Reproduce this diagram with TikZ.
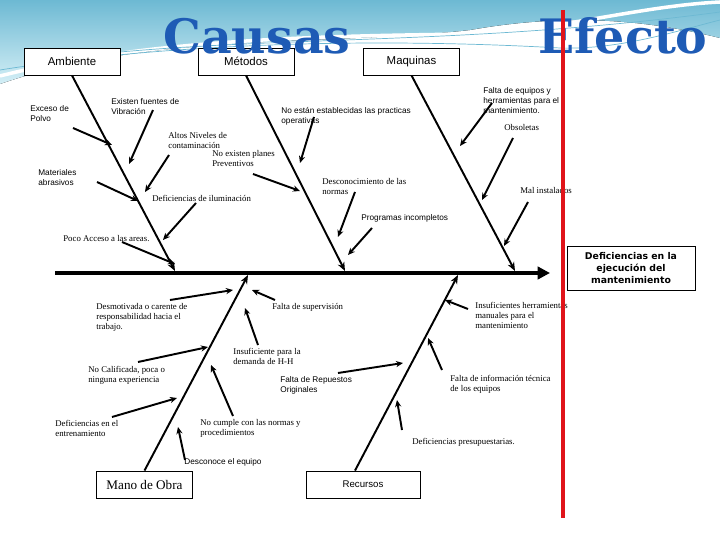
\documentclass[tikz,border=0pt]{standalone}
\usepackage{fontspec}
\setmainfont{Liberation Serif}
\setsansfont{Liberation Sans}
\newfontfamily\titlefont{DejaVu Serif}
\newfontfamily\boxfont{DejaVu Sans}
\usetikzlibrary{arrows.meta}
\definecolor{skyA}{HTML}{6DB9D3}
\definecolor{skyB}{HTML}{D4EFF6}
\definecolor{titleblue}{HTML}{1E5BB5}
\definecolor{effred}{HTML}{E0141A}

\begin{document}
\begin{tikzpicture}[x=0.02cm, y=-0.02cm,
        lbl/.style={anchor=north west, inner sep=0pt, align=left, font=\fontsize{5}{5.6}\selectfont},
        slbl/.style={lbl, font=\sffamily\fontsize{4.7}{5.6}\selectfont},
        cat/.style={draw, line width=0.5pt, fill=white, minimum width=1.92cm, minimum height=0.54cm, inner sep=0pt, font=\sffamily\fontsize{6.5}{7}\selectfont},
        bone/.style={line width=1.1pt, -{Stealth[length=5pt,width=4pt]}},
        twig/.style={line width=1.1pt, -{Stealth[length=4pt,width=3.5pt]}},
        title/.style={text=titleblue, inner sep=0pt, font=\titlefont\bfseries\fontsize{27}{27}\selectfont}]
    \useasboundingbox (0,0) rectangle (720,540);

    % fondo
    \fill[top color=skyA, bottom color=skyB] (0,0) -- (720,0) -- (720,38) .. controls (640,18) and (560,14) .. (470,30) .. controls (330,46) and (150,32) .. (0,84) -- cycle;
    \draw[white, line width=2pt] (0,76) .. controls (150,38) and (330,36) .. (470,34) .. controls (560,30) and (640,6) .. (720,2);
    \draw[skyA, line width=0.4pt] (0,70) .. controls (200,38) and (420,40) .. (560,48) .. controls (620,50) and (680,30) .. (720,20);
    \draw[skyA, line width=0.4pt] (120,52) .. controls (300,36) and (480,44) .. (720,12);

    % cajas
    \node[cat] (amb) at (72,61.5) {Ambiente};
    \node[cat] (met) at (246,61.5) {Métodos};
    \node[cat] (maq) at (411.5,61.5) {Maquinas};
    \node[cat, font=\fontsize{7.5}{8}\selectfont] (mano) at (144.5,484.5) {Mano de Obra};
    \node[cat, minimum width=2.28cm, font=\sffamily\fontsize{5.5}{6}\selectfont] (rec) at (363,484.5) {Recursos};

    \node[title] (causas) at (257,36) {Causas};
    \node[title] (efecto) at (623,36) {Efecto};

    % espina
    \coordinate (sL) at (55,273);
    \coordinate (sR) at (550,273);
    \draw[line width=2.4pt, -{Triangle[length=7pt,width=7pt]}] (sL) -- (sR);

    \coordinate (jA) at (175,271);
    \coordinate (jM) at (345,271);
    \coordinate (jQ) at (515,271);
    \coordinate (jO) at (248,275);
    \coordinate (jR) at (458,275);
    \draw[bone] (amb.south) -- (jA);
    \draw[bone] (met.south) -- (jM);
    \draw[bone] (maq.south) -- (jQ);
    \draw[bone] (mano.north) -- (jO);
    \draw[bone] ([xshift=-0.16cm]rec.north) -- (jR);

    % causas secundarias
    \foreach \i/\tx/\ty/\hx/\hy in {1/73/128/112/145, 2/153/110/129/164, 3/169/155/145/192,
            4/97/182/138/201, 5/196/203/163/240, 6/122/242/175/264, 7/314/117/300/163,
            8/253/174/300/191, 9/355/192/338/237, 10/372/228/348/255, 11/492/103/460/146,
            12/513/138/482/200, 13/528/202/504/246, 14/170/300/233/290, 15/275/300/252/290,
            16/258/345/245/308, 17/138/362/208/347, 18/112/417/177/398, 19/233/416/211/365,
            20/185/460/178/427, 21/468/309/445/300, 22/442/370/428/338, 23/338/373/403/363,
            24/402/430/397/400} {
        \coordinate (t\i) at (\tx,\ty);
        \coordinate (h\i) at (\hx,\hy);
        \draw[twig] (t\i) -- (h\i);
    }

    \node[slbl] (polvo) at (30,105) {Exceso de\\Polvo};
    \node[slbl] (vibra) at (111,98) {Existen fuentes de\\Vibración};
    \node[slbl] (pract) at (281,107) {No están establecidas las practicas\\operativas};
    \node[slbl] (equip) at (483,87) {Falta de equipos y\\herramientas para el\\mantenimiento.};
    \node[lbl] (obsol) at (504,124) {Obsoletas};
    \node[lbl] (conta) at (168,132) {Altos Niveles de\\contaminación};
    \node[lbl] (plane) at (212,150) {No existen planes\\Preventivos};
    \node[slbl] (abras) at (38,169) {Materiales\\abrasivos};
    \node[lbl] (norma) at (322,178) {Desconocimiento de las\\normas};
    \node[lbl] (insta) at (520,187) {Mal instalados};
    \node[lbl] (ilumi) at (152,195) {Deficiencias de iluminación};
    \node[slbl] (progr) at (361,214) {Programas incompletos};
    \node[lbl] (acces) at (63,235) {Poco Acceso a las areas.};

    \node[lbl] (desmo) at (96,303) {Desmotivada o carente de\\responsabilidad hacia el\\trabajo.};
    \node[lbl] (super) at (272,303) {Falta de supervisión};
    \node[lbl] (herra) at (475,302) {Insuficientes herramientas\\manuales para el\\mantenimiento};
    \node[lbl] (deman) at (233,348) {Insuficiente para la\\demanda de H-H};
    \node[lbl] (calif) at (88,366) {No Calificada, poca o\\ninguna experiencia};
    \node[slbl] (repue) at (280,376) {Falta de Repuestos\\Originales};
    \node[lbl] (infor) at (450,375) {Falta de información técnica\\de los equipos};
    \node[lbl] (entre) at (55,420) {Deficiencias en el\\entrenamiento};
    \node[lbl] (cumpl) at (200,419) {No cumple con las normas y\\procedimientos};
    \node[lbl] (presu) at (412,438) {Deficiencias presupuestarias.};
    \node[slbl] (desco) at (184,458) {Desconoce el equipo};

    % efecto
    \draw[effred, line width=2.2pt] (563,10) -- (563,518);
    \node[draw, line width=0.5pt, fill=white, minimum width=2.56cm, minimum height=0.88cm, inner sep=1pt, align=center,
        font=\boxfont\bfseries\fontsize{5.3}{7}\selectfont] (efe) at (631,268) {Deficiencias en la\\ejecución del\\mantenimiento};
\end{tikzpicture}
\end{document}
